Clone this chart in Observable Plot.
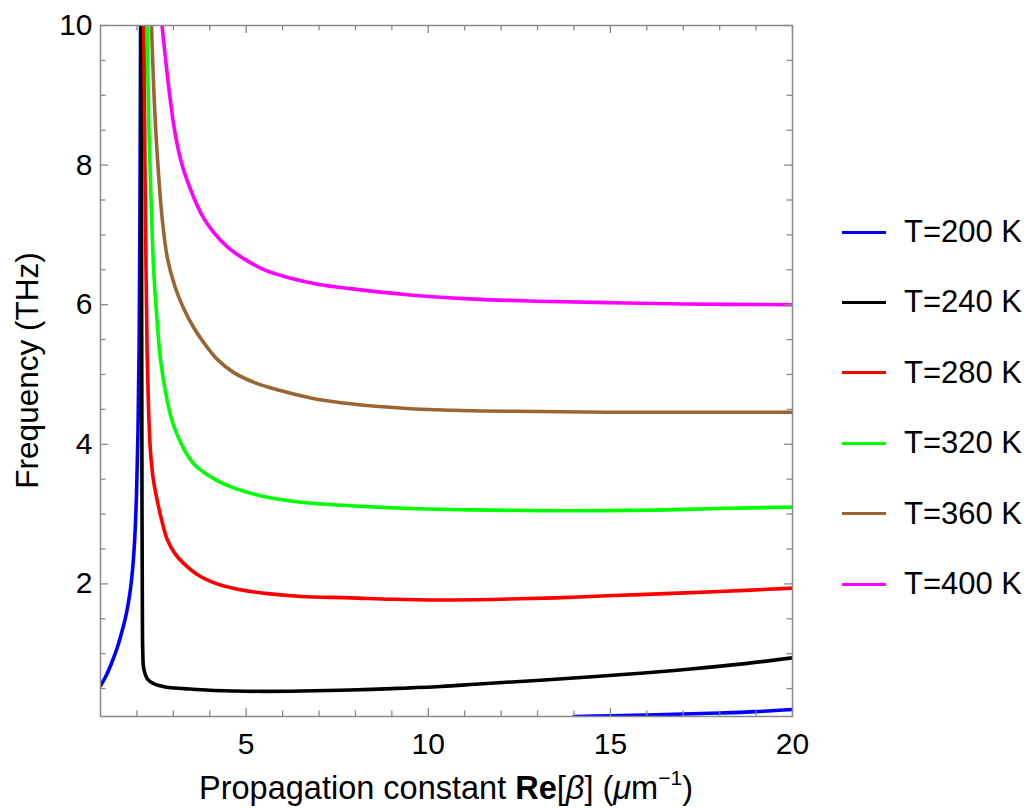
<!DOCTYPE html>
<html><head><meta charset="utf-8">
<script src="https://cdn.jsdelivr.net/npm/d3@7"></script>
<script src="https://cdn.jsdelivr.net/npm/@observablehq/plot@0.6"></script>
<style>
body{margin:0;background:#fff;}
#wrap{position:relative;width:1032px;height:808px;font-family:"Liberation Sans",Arial,sans-serif;overflow:hidden;}
.leg{position:absolute;left:842px;display:flex;align-items:center;height:40px;font-size:31px;color:#000;}
.leg .sw{display:inline-block;width:44px;height:3px;margin-right:18px;}
</style></head><body><div id="wrap"></div>
<script>
// ---- data ----
const seriesLabels = ["T=200 K","T=240 K","T=280 K","T=320 K","T=360 K","T=400 K"];
const seriesColors = ["#0000ff","#000000","#ff0000","#00ff00","#996633","#ff00ff"];

// T=200 K: two branches
const t200aBeta = [1.0,1.15,1.3,1.45,1.58,1.7,1.8,1.88,1.94,1.99,2.03,2.06,2.08,2.1];
const t200aFreq = [0.54,0.68,0.86,1.07,1.3,1.55,1.84,2.2,2.65,3.3,4.2,5.4,7.0,10];
const t200bBeta = [14.0,15,16,17,18,19,20];
const t200bFreq = [0.1,0.11,0.12,0.135,0.15,0.17,0.2];

const t240Beta = [2.12,2.13,2.14,2.15,2.16,2.19,2.3,2.46,2.8,3.3,4,4.66,5.5,6.5,7.86,9,10.34,11.5,13.08,14.5,15.83,17.2,18.57,20];
const t240Freq = [10,6,3,1.6,1.05,0.78,0.63,0.57,0.52,0.5,0.475,0.465,0.46,0.465,0.48,0.5,0.53,0.57,0.62,0.67,0.72,0.78,0.85,0.94];

const t280Beta = [2.19,2.22,2.25,2.28,2.32,2.37,2.45,2.56,2.7,2.83,3.05,3.29,3.7,4.2,4.8,5.58,6.5,7.86,9,10.34,12,13.5,14.91,16.5,18,20];
const t280Freq = [10,8,6.5,5.3,4.5,3.91,3.5,3.19,2.87,2.64,2.43,2.29,2.12,2.0,1.92,1.86,1.82,1.8,1.78,1.77,1.78,1.8,1.83,1.86,1.89,1.94];

const t320Beta = [2.28,2.33,2.4,2.46,2.55,2.65,2.83,3.0,3.29,3.5,3.7,4.2,4.8,5.58,6.5,7.86,9.5,11.24,13,14.92,16.5,18,20];
const t320Freq = [10,8.5,7.3,6.5,5.8,5.2,4.63,4.28,3.93,3.76,3.65,3.48,3.35,3.24,3.17,3.12,3.08,3.06,3.05,3.05,3.06,3.08,3.1];

const t360Beta = [2.40,2.47,2.565,2.7,2.84,3.05,3.28,3.55,3.83,4.2,4.65,5.25,5.94,6.8,7.86,9.5,11.24,13,14.92,17,20];
const t360Freq = [10,9.0,8.09,7.2,6.66,6.25,5.95,5.68,5.46,5.22,5.03,4.88,4.77,4.66,4.58,4.51,4.48,4.47,4.46,4.46,4.46];

const t400Beta = [2.69,2.78,2.9,3.05,3.24,3.55,3.8,4.1,4.5,4.93,5.5,6.22,7,7.86,9.5,11.24,13,14.92,17,20];
const t400Freq = [10,9.55,9.0,8.45,8.0,7.55,7.27,7.04,6.82,6.66,6.5,6.38,6.29,6.23,6.14,6.08,6.05,6.03,6.01,6.0];

const xMajorTicks = [5,10,15,20];
const xMinorTicks = [2,3,4,6,7,8,9,11,12,13,14,16,17,18,19];
const yMajorTicks = [2,4,6,8,10];
const yMinorTicks = [0.5,1,1.5,2.5,3,3.5,4.5,5,5.5,6.5,7,7.5,8.5,9,9.5];

// ---- build table ----
const segs = [
  [seriesLabels[0],"a",t200aBeta,t200aFreq],
  [seriesLabels[0],"b",t200bBeta,t200bFreq],
  [seriesLabels[1],"a",t240Beta,t240Freq],
  [seriesLabels[2],"a",t280Beta,t280Freq],
  [seriesLabels[3],"a",t320Beta,t320Freq],
  [seriesLabels[4],"a",t360Beta,t360Freq],
  [seriesLabels[5],"a",t400Beta,t400Freq]
];
const rows = [];
for (const [s,k,xs,ys] of segs) xs.forEach((x,i)=>rows.push({series:s, seg:s+k, beta:x, freq:ys[i]}));

const W = 1032, H = 808, mL = 100, mR = 240, mT = 25, mB = 92;
const pW = W - mL - mR, pH = H - mT - mB;
const gray = "#8a8a8a";
const major = 8, minor = 5.5;

const chart = Plot.plot({
  width: W, height: H,
  marginLeft: mL, marginRight: mR, marginTop: mT, marginBottom: mB,
  style: {fontFamily: '"Liberation Sans", Arial, sans-serif', fontSize: "30px", color: "#000", background: "#fff"},
  x: {domain: [1,20], label: null},
  y: {domain: [0.1,10], label: null},
  color: {domain: seriesLabels, range: seriesColors},
  marks: [
    Plot.line(rows, {x:"beta", y:"freq", z:"seg", stroke:"series", strokeWidth:3.6, curve:"catmull-rom", clip:true}),
    Plot.frame({stroke: gray, strokeWidth: 1.5}),
    Plot.ruleX(xMajorTicks, {stroke: gray, strokeWidth: 1.3, insetTop: pH - major}),
    Plot.ruleX(xMajorTicks, {stroke: gray, strokeWidth: 1.3, insetBottom: pH - major}),
    Plot.ruleX(xMinorTicks, {stroke: gray, strokeWidth: 1.3, insetTop: pH - minor}),
    Plot.ruleX(xMinorTicks, {stroke: gray, strokeWidth: 1.3, insetBottom: pH - minor}),
    Plot.ruleY(yMajorTicks, {stroke: gray, strokeWidth: 1.3, insetRight: pW - major}),
    Plot.ruleY(yMajorTicks, {stroke: gray, strokeWidth: 1.3, insetLeft: pW - major}),
    Plot.ruleY(yMinorTicks, {stroke: gray, strokeWidth: 1.3, insetRight: pW - minor}),
    Plot.ruleY(yMinorTicks, {stroke: gray, strokeWidth: 1.3, insetLeft: pW - minor}),
    Plot.axisX(xMajorTicks, {tickSize: 0, tickPadding: 16, label: null, tickFormat: d3.format("d")}),
    Plot.axisY(yMajorTicks, {tickSize: 0, tickPadding: 8, label: null, tickFormat: d3.format("d")})
  ]
});

const wrap = document.getElementById("wrap");
wrap.appendChild(chart);

// axis titles (rich text)
const svg = d3.select(chart);
const cx = mL + pW / 2, cy = mT + pH / 2;
const xt = svg.append("text").attr("x", cx).attr("y", H - 9).attr("text-anchor", "middle")
  .attr("font-size", 32.5).attr("fill", "#000");
xt.append("tspan").text("Propagation constant ");
xt.append("tspan").attr("font-weight", "bold").text("Re");
xt.append("tspan").text("[");
xt.append("tspan").attr("font-style", "italic").text("β");
xt.append("tspan").text("] (");
xt.append("tspan").attr("font-style", "italic").text("μ");
xt.append("tspan").text("m");
xt.append("tspan").attr("font-size", 21).attr("dy", -14).text("−1");
xt.append("tspan").attr("dy", 14).text(")");

svg.append("text").attr("transform", `translate(38,${cy}) rotate(-90)`).attr("text-anchor", "middle")
  .attr("font-size", 31.5).attr("fill", "#000").text("Frequency (THz)");

// legend
seriesLabels.forEach((lab, i) => {
  const d = document.createElement("div");
  d.className = "leg";
  d.style.top = (232 + i * 70.4 - 20) + "px";
  const sw = document.createElement("span");
  sw.className = "sw"; sw.style.background = seriesColors[i];
  const tx = document.createElement("span");
  tx.textContent = lab;
  d.appendChild(sw); d.appendChild(tx);
  wrap.appendChild(d);
});
</script>
</body></html>
